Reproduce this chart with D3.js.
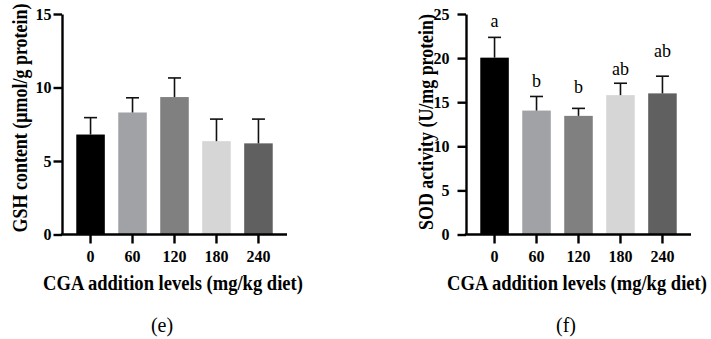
<!DOCTYPE html>
<html>
<head>
<meta charset="utf-8">
<script src="https://cdn.jsdelivr.net/npm/d3@7"></script>
<style>
  body { margin: 0; background: #fff; }
</style>
</head>
<body>
<div id="graph"></div>
<script>
var WIDTH = 711, HEIGHT = 339;
var SERIF = "'Liberation Serif', Tinos, 'Times New Roman', 'DejaVu Serif', serif";

// data
var levels = ["0", "60", "120", "180", "240"];
var barColors = ["#000000", "#a1a2a6", "#808080", "#d6d6d6", "#606060"];

var gshMean = [6.8, 8.3, 9.35, 6.35, 6.2];
var gshSd = [1.15, 1.0, 1.3, 1.5, 1.65];
var gshTicks = [0, 5, 10, 15];

var sodMean = [20.05, 14.05, 13.45, 15.8, 16.0];
var sodSd = [2.3, 1.6, 0.85, 1.35, 1.95];
var sodTicks = [0, 5, 10, 15, 20, 25];
var sodLetters = ["a", "b", "b", "ab", "ab"];
var sodLetterAt = [23.5, 16.7, 16.0, 18.1, 20.15]; // letter baselines, in data units

var svg = d3.select("#graph").append("svg").attr("width", WIDTH).attr("height", HEIGHT)
  .style("font-family", SERIF);

drawPanel({
  x0: 62, ymax: 15, ticks: gshTicks, mean: gshMean, sd: gshSd,
  ytitle: "GSH content (\u03bcmol/g protein)", ytitleX: 27, ytitleLen: 229, ytitleY: 118,
  tickPad: 2, tag: "(e)", tagX: 162
});
drawPanel({
  x0: 466, ymax: 25, ticks: sodTicks, mean: sodMean, sd: sodSd,
  letters: sodLetters, letterAt: sodLetterAt,
  ytitle: "SOD activity (U/mg protein)", ytitleX: 433, ytitleLen: 216, ytitleY: 122,
  tickPad: 8, tag: "(f)", tagX: 566
});

// shrink a text to the wanted width, then stretch it upward like the condensed original
function fit(t, len, stretch, base) {
  var w = t.node().getComputedTextLength();
  var fs = +t.attr("font-size");
  t.attr("font-size", fs * len / w);
  t.attr("transform", base + " scale(1," + stretch + ")");
}

function drawPanel(p) {
  var top = 14, bottom = 234.5;
  var g = svg.append("g");

  var x = d3.scaleBand().domain(levels).range([p.x0, p.x0 + 225])
    .paddingInner(0.32).paddingOuter(0.34);
  var y = d3.scaleLinear().domain([0, p.ymax]).range([bottom, top]);

  // bars
  g.selectAll("rect.bar").data(p.mean).enter().append("rect")
    .attr("class", "bar")
    .attr("x", function(d, i) { return x(levels[i]); })
    .attr("y", function(d) { return y(d); })
    .attr("width", x.bandwidth())
    .attr("height", function(d) { return bottom - y(d); })
    .attr("fill", function(d, i) { return barColors[i]; });

  // upper error bars
  var eb = g.selectAll("g.err").data(p.mean).enter().append("g").attr("class", "err")
    .attr("stroke", "#111").attr("stroke-width", 1.6);
  eb.append("line")
    .attr("x1", function(d, i) { return x(levels[i]) + x.bandwidth() / 2; })
    .attr("x2", function(d, i) { return x(levels[i]) + x.bandwidth() / 2; })
    .attr("y1", function(d) { return y(d); })
    .attr("y2", function(d, i) { return y(d + p.sd[i]); });
  eb.append("line")
    .attr("x1", function(d, i) { return x(levels[i]) + x.bandwidth() / 2 - 6.5; })
    .attr("x2", function(d, i) { return x(levels[i]) + x.bandwidth() / 2 + 6.5; })
    .attr("y1", function(d, i) { return y(d + p.sd[i]); })
    .attr("y2", function(d, i) { return y(d + p.sd[i]); });

  // significance letters
  if (p.letters) {
    g.selectAll("text.sig").data(p.letters).enter().append("text")
      .attr("class", "sig")
      .attr("x", function(d, i) { return x(levels[i]) + x.bandwidth() / 2; })
      .attr("y", function(d, i) { return y(p.letterAt[i]); })
      .attr("text-anchor", "middle")
      .attr("font-size", 18)
      .style("font-family", SERIF)
      .text(function(d) { return d; });
  }

  // axes
  var yAxis = g.append("g").attr("transform", "translate(" + p.x0 + ",0)")
    .call(d3.axisLeft(y).tickValues(p.ticks).tickSize(8.5).tickSizeOuter(0).tickPadding(p.tickPad));
  var xAxis = g.append("g").attr("transform", "translate(0," + bottom + ")")
    .call(d3.axisBottom(x).tickSize(9).tickSizeOuter(0).tickPadding(7));

  [yAxis, xAxis].forEach(function(a) {
    a.attr("font-family", null);
    a.selectAll("path, line").attr("stroke", "#000").attr("stroke-width", 2.4);
    a.selectAll("text").attr("font-size", 16).attr("font-weight", "bold").attr("fill", "#000")
      .style("font-family", SERIF);
  });
  xAxis.select(".domain").attr("d", "M" + (p.x0 - 1.2) + ",0H" + (p.x0 + 225));

  // titles
  var yt = g.append("text")
    .attr("text-anchor", "middle")
    .attr("font-size", 20).attr("font-weight", "bold")
    .style("font-family", SERIF)
    .text(p.ytitle);
  fit(yt, p.ytitleLen, 1.12, "translate(" + p.ytitleX + "," + p.ytitleY + ") rotate(-90)");

  var xt = g.append("text")
    .attr("text-anchor", "middle")
    .attr("font-size", 20).attr("font-weight", "bold")
    .style("font-family", SERIF)
    .text("CGA addition levels (mg/kg diet)");
  fit(xt, 260, 1.12, "translate(" + (p.x0 + 111) + ",289.5)");

  g.append("text")
    .attr("x", p.tagX).attr("y", 332)
    .attr("text-anchor", "middle")
    .attr("font-size", 20)
    .style("font-family", SERIF)
    .text(p.tag);
}
</script>
</body>
</html>
